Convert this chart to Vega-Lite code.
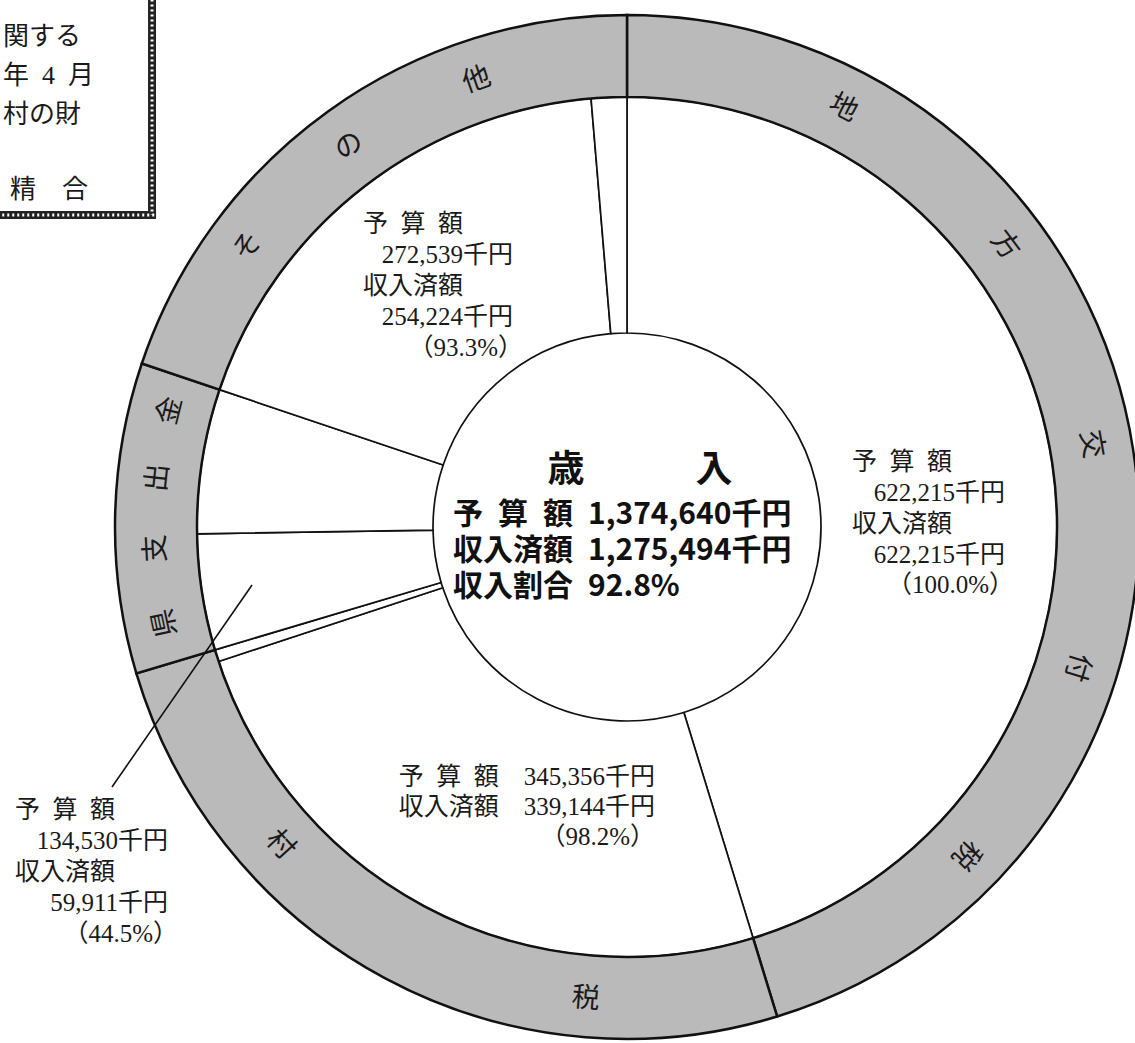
{
  "$schema": "https://vega.github.io/schema/vega-lite/v6.json",
  "width": 1016,
  "height": 1032,
  "autosize": {"type": "none"},
  "padding": {"left": 119, "top": 11, "right": 0, "bottom": 0},
  "background": "white",
  "config": {"view": {"stroke": null}},
  "datasets": {
    "ring": [
      {"cat": "地方交付税", "budget": 622215, "o": 1},
      {"cat": "村税", "budget": 345356, "o": 2},
      {"cat": "県支出金", "budget": 134530, "o": 3},
      {"cat": "その他", "budget": 272539, "o": 4}
    ],
    "segments": [
      {"cat": "地方交付税", "status": "収入済額", "amount": 622215, "o": 1},
      {"cat": "村税", "status": "収入済額", "amount": 339144, "o": 2},
      {"cat": "村税", "status": "未収入", "amount": 6212, "o": 3},
      {"cat": "県支出金", "status": "収入済額", "amount": 59911, "o": 4},
      {"cat": "県支出金", "status": "未収入", "amount": 74619, "o": 5},
      {"cat": "その他", "status": "収入済額", "amount": 254224, "o": 6},
      {"cat": "その他", "status": "未収入", "amount": 18315, "o": 7}
    ],
    "notes": [
      {"key": "heads", "text": "予\u2002算\u2002額\n収入済額"},
      {"key": "地方交付税-A", "text": "622,215千円\n622,215千円"},
      {"key": "地方交付税-P", "text": "（100.0%）"},
      {"key": "村税", "text": "予\u2002算\u2002額\u3000345,356千円\n収入済額\u3000339,144千円\n（98.2%）"},
      {"key": "県支出金-A", "text": "134,530千円\n59,911千円"},
      {"key": "県支出金-P", "text": "（44.5%）"},
      {"key": "その他-A", "text": "272,539千円\n254,224千円"},
      {"key": "その他-P", "text": "（93.3%）"},
      {"key": "title", "text": "歳\u3000\u3000\u3000入"},
      {"key": "total", "text": "予\u2002算\u2002額\u20021,374,640千円\n収入済額\u20021,275,494千円\n収入割合\u200292.8%"},
      {"key": "corner", "text": "関する\n年\u20024\u2002月\n村の財"},
      {"key": "corner2", "text": "精\u3000合"}
    ]
  },
  "layer": [
    {
      "data": {"name": "segments"},
      "mark": {"type": "arc", "radius": 430, "radius2": 194, "fill": "white", "stroke": "#111111", "strokeWidth": 1.7},
      "encoding": {
        "theta": {"field": "amount", "type": "quantitative", "stack": true, "scale": {"domain": [0, 1374640]}},
        "order": {"field": "o", "type": "quantitative"}
      }
    },
    {
      "data": {"name": "ring"},
      "mark": {"type": "arc", "radius": 512, "radius2": 430, "fill": "#bababa", "stroke": "#111111", "strokeWidth": 2.5},
      "encoding": {
        "theta": {"field": "budget", "type": "quantitative", "stack": true, "scale": {"domain": [0, 1374640]}},
        "order": {"field": "o", "type": "quantitative"}
      }
    },
    {"data": {"values": [{"ch": "地"}]}, "mark": {"type": "text", "radius": 471, "angle": 27, "fontSize": 28, "font": "Noto Sans CJK JP", "fill": "#1a1a1a", "align": "center", "baseline": "middle"}, "encoding": {"theta": {"datum": 104244, "type": "quantitative", "scale": {"domain": [0, 1374640]}}, "text": {"field": "ch", "type": "nominal"}}},
    {"data": {"values": [{"ch": "方"}]}, "mark": {"type": "text", "radius": 471, "angle": 53, "fontSize": 28, "font": "Noto Sans CJK JP", "fill": "#1a1a1a", "align": "center", "baseline": "middle"}, "encoding": {"theta": {"datum": 203523, "type": "quantitative", "scale": {"domain": [0, 1374640]}}, "text": {"field": "ch", "type": "nominal"}}},
    {"data": {"values": [{"ch": "交"}]}, "mark": {"type": "text", "radius": 471, "angle": 80, "fontSize": 28, "font": "Noto Sans CJK JP", "fill": "#1a1a1a", "align": "center", "baseline": "middle"}, "encoding": {"theta": {"datum": 305094, "type": "quantitative", "scale": {"domain": [0, 1374640]}}, "text": {"field": "ch", "type": "nominal"}}},
    {"data": {"values": [{"ch": "付"}]}, "mark": {"type": "text", "radius": 471, "angle": 107, "fontSize": 28, "font": "Noto Sans CJK JP", "fill": "#1a1a1a", "align": "center", "baseline": "middle"}, "encoding": {"theta": {"datum": 409719, "type": "quantitative", "scale": {"domain": [0, 1374640]}}, "text": {"field": "ch", "type": "nominal"}}},
    {"data": {"values": [{"ch": "税"}]}, "mark": {"type": "text", "radius": 471, "angle": 134, "fontSize": 28, "font": "Noto Sans CJK JP", "fill": "#1a1a1a", "align": "center", "baseline": "middle"}, "encoding": {"theta": {"datum": 511671, "type": "quantitative", "scale": {"domain": [0, 1374640]}}, "text": {"field": "ch", "type": "nominal"}}},
    {"data": {"values": [{"ch": "税"}]}, "mark": {"type": "text", "radius": 474, "angle": 5, "fontSize": 28, "font": "Noto Sans CJK JP", "fill": "#1a1a1a", "align": "center", "baseline": "middle"}, "encoding": {"theta": {"datum": 706412, "type": "quantitative", "scale": {"domain": [0, 1374640]}}, "text": {"field": "ch", "type": "nominal"}}},
    {"data": {"values": [{"ch": "村"}]}, "mark": {"type": "text", "radius": 471, "angle": 47.5, "fontSize": 28, "font": "Noto Sans CJK JP", "fill": "#1a1a1a", "align": "center", "baseline": "middle"}, "encoding": {"theta": {"datum": 868695, "type": "quantitative", "scale": {"domain": [0, 1374640]}}, "text": {"field": "ch", "type": "nominal"}}},
    {"data": {"values": [{"ch": "県"}]}, "mark": {"type": "text", "radius": 471, "angle": 258, "fontSize": 28, "font": "Noto Sans CJK JP", "fill": "#1a1a1a", "align": "center", "baseline": "middle"}, "encoding": {"theta": {"datum": 986304, "type": "quantitative", "scale": {"domain": [0, 1374640]}}, "text": {"field": "ch", "type": "nominal"}}},
    {"data": {"values": [{"ch": "支"}]}, "mark": {"type": "text", "radius": 471, "angle": 267, "fontSize": 28, "font": "Noto Sans CJK JP", "fill": "#1a1a1a", "align": "center", "baseline": "middle"}, "encoding": {"theta": {"datum": 1021052, "type": "quantitative", "scale": {"domain": [0, 1374640]}}, "text": {"field": "ch", "type": "nominal"}}},
    {"data": {"values": [{"ch": "出"}]}, "mark": {"type": "text", "radius": 471, "angle": 276, "fontSize": 28, "font": "Noto Sans CJK JP", "fill": "#1a1a1a", "align": "center", "baseline": "middle"}, "encoding": {"theta": {"datum": 1053889, "type": "quantitative", "scale": {"domain": [0, 1374640]}}, "text": {"field": "ch", "type": "nominal"}}},
    {"data": {"values": [{"ch": "金"}]}, "mark": {"type": "text", "radius": 471, "angle": 284, "fontSize": 28, "font": "Noto Sans CJK JP", "fill": "#1a1a1a", "align": "center", "baseline": "middle"}, "encoding": {"theta": {"datum": 1085582, "type": "quantitative", "scale": {"domain": [0, 1374640]}}, "text": {"field": "ch", "type": "nominal"}}},
    {"data": {"values": [{"ch": "そ"}]}, "mark": {"type": "text", "radius": 471, "angle": 306.5, "fontSize": 28, "font": "Noto Sans CJK JP", "fill": "#1a1a1a", "align": "center", "baseline": "middle"}, "encoding": {"theta": {"datum": 1170352, "type": "quantitative", "scale": {"domain": [0, 1374640]}}, "text": {"field": "ch", "type": "nominal"}}},
    {"data": {"values": [{"ch": "の"}]}, "mark": {"type": "text", "radius": 471, "angle": 324, "fontSize": 28, "font": "Noto Sans CJK JP", "fill": "#1a1a1a", "align": "center", "baseline": "middle"}, "encoding": {"theta": {"datum": 1236794, "type": "quantitative", "scale": {"domain": [0, 1374640]}}, "text": {"field": "ch", "type": "nominal"}}},
    {"data": {"values": [{"ch": "他"}]}, "mark": {"type": "text", "radius": 471, "angle": 341, "fontSize": 28, "font": "Noto Sans CJK JP", "fill": "#1a1a1a", "align": "center", "baseline": "middle"}, "encoding": {"theta": {"datum": 1303616, "type": "quantitative", "scale": {"domain": [0, 1374640]}}, "text": {"field": "ch", "type": "nominal"}}},

    {"data": {"name": "notes"}, "transform": [{"filter": "datum.key == 'heads'"}],
      "mark": {"type": "text", "align": "left", "baseline": "top", "lineBreak": "\n", "lineHeight": 62, "fontSize": 25, "font": "Liberation Serif, Noto Sans CJK JP", "fill": "#1a1a1a"},
      "encoding": {
        "x": {"datum": 0.4395, "type": "quantitative", "scale": {"domain": [-0.9922, 0.9922], "nice": false, "zero": false}, "axis": null},
        "y": {"datum": 0.1504, "type": "quantitative", "scale": {"domain": [-1.0078, 1.0078], "nice": false, "zero": false}, "axis": null},
        "text": {"field": "text", "type": "nominal"}}},
    {"data": {"name": "notes"}, "transform": [{"filter": "datum.key == '地方交付税-A'"}],
      "mark": {"type": "text", "align": "right", "baseline": "top", "lineBreak": "\n", "lineHeight": 62, "fontSize": 25, "font": "Liberation Serif, Noto Sans CJK JP", "fill": "#1a1a1a"},
      "encoding": {
        "x": {"datum": 0.7383, "type": "quantitative", "scale": {"domain": [-0.9922, 0.9922], "nice": false, "zero": false}, "axis": null},
        "y": {"datum": 0.0898, "type": "quantitative", "scale": {"domain": [-1.0078, 1.0078], "nice": false, "zero": false}, "axis": null},
        "text": {"field": "text", "type": "nominal"}}},
    {"data": {"name": "notes"}, "transform": [{"filter": "datum.key == '地方交付税-P'"}],
      "mark": {"type": "text", "align": "right", "baseline": "top", "fontSize": 25, "font": "Liberation Serif, Noto Sans CJK JP", "fill": "#1a1a1a"},
      "encoding": {
        "x": {"datum": 0.7559, "type": "quantitative", "scale": {"domain": [-0.9922, 0.9922], "nice": false, "zero": false}, "axis": null},
        "y": {"datum": -0.0898, "type": "quantitative", "scale": {"domain": [-1.0078, 1.0078], "nice": false, "zero": false}, "axis": null},
        "text": {"field": "text", "type": "nominal"}}},

    {"data": {"name": "notes"}, "transform": [{"filter": "datum.key == '村税'"}],
      "mark": {"type": "text", "align": "right", "baseline": "top", "lineBreak": "\n", "lineHeight": 30, "fontSize": 25, "font": "Liberation Serif, Noto Sans CJK JP", "fill": "#1a1a1a"},
      "encoding": {
        "x": {"datum": 0.0547, "type": "quantitative", "scale": {"domain": [-0.9922, 0.9922], "nice": false, "zero": false}, "axis": null},
        "y": {"datum": -0.4648, "type": "quantitative", "scale": {"domain": [-1.0078, 1.0078], "nice": false, "zero": false}, "axis": null},
        "text": {"field": "text", "type": "nominal"}}},

    {"data": {"name": "notes"}, "transform": [{"filter": "datum.key == 'heads'"}],
      "mark": {"type": "text", "align": "left", "baseline": "top", "lineBreak": "\n", "lineHeight": 62, "fontSize": 25, "font": "Liberation Serif, Noto Sans CJK JP", "fill": "#1a1a1a"},
      "encoding": {
        "x": {"datum": -1.1953, "type": "quantitative", "scale": {"domain": [-0.9922, 0.9922], "nice": false, "zero": false}, "axis": null},
        "y": {"datum": -0.5293, "type": "quantitative", "scale": {"domain": [-1.0078, 1.0078], "nice": false, "zero": false}, "axis": null},
        "text": {"field": "text", "type": "nominal"}}},
    {"data": {"name": "notes"}, "transform": [{"filter": "datum.key == '県支出金-A'"}],
      "mark": {"type": "text", "align": "right", "baseline": "top", "lineBreak": "\n", "lineHeight": 62, "fontSize": 25, "font": "Liberation Serif, Noto Sans CJK JP", "fill": "#1a1a1a"},
      "encoding": {
        "x": {"datum": -0.8965, "type": "quantitative", "scale": {"domain": [-0.9922, 0.9922], "nice": false, "zero": false}, "axis": null},
        "y": {"datum": -0.5898, "type": "quantitative", "scale": {"domain": [-1.0078, 1.0078], "nice": false, "zero": false}, "axis": null},
        "text": {"field": "text", "type": "nominal"}}},
    {"data": {"name": "notes"}, "transform": [{"filter": "datum.key == '県支出金-P'"}],
      "mark": {"type": "text", "align": "right", "baseline": "top", "fontSize": 25, "font": "Liberation Serif, Noto Sans CJK JP", "fill": "#1a1a1a"},
      "encoding": {
        "x": {"datum": -0.8770, "type": "quantitative", "scale": {"domain": [-0.9922, 0.9922], "nice": false, "zero": false}, "axis": null},
        "y": {"datum": -0.7715, "type": "quantitative", "scale": {"domain": [-1.0078, 1.0078], "nice": false, "zero": false}, "axis": null},
        "text": {"field": "text", "type": "nominal"}}},

    {"data": {"name": "notes"}, "transform": [{"filter": "datum.key == 'heads'"}],
      "mark": {"type": "text", "align": "left", "baseline": "top", "lineBreak": "\n", "lineHeight": 62, "fontSize": 25, "font": "Liberation Serif, Noto Sans CJK JP", "fill": "#1a1a1a"},
      "encoding": {
        "x": {"datum": -0.5156, "type": "quantitative", "scale": {"domain": [-0.9922, 0.9922], "nice": false, "zero": false}, "axis": null},
        "y": {"datum": 0.6152, "type": "quantitative", "scale": {"domain": [-1.0078, 1.0078], "nice": false, "zero": false}, "axis": null},
        "text": {"field": "text", "type": "nominal"}}},
    {"data": {"name": "notes"}, "transform": [{"filter": "datum.key == 'その他-A'"}],
      "mark": {"type": "text", "align": "right", "baseline": "top", "lineBreak": "\n", "lineHeight": 62, "fontSize": 25, "font": "Liberation Serif, Noto Sans CJK JP", "fill": "#1a1a1a"},
      "encoding": {
        "x": {"datum": -0.2227, "type": "quantitative", "scale": {"domain": [-0.9922, 0.9922], "nice": false, "zero": false}, "axis": null},
        "y": {"datum": 0.5547, "type": "quantitative", "scale": {"domain": [-1.0078, 1.0078], "nice": false, "zero": false}, "axis": null},
        "text": {"field": "text", "type": "nominal"}}},
    {"data": {"name": "notes"}, "transform": [{"filter": "datum.key == 'その他-P'"}],
      "mark": {"type": "text", "align": "right", "baseline": "top", "fontSize": 25, "font": "Liberation Serif, Noto Sans CJK JP", "fill": "#1a1a1a"},
      "encoding": {
        "x": {"datum": -0.2031, "type": "quantitative", "scale": {"domain": [-0.9922, 0.9922], "nice": false, "zero": false}, "axis": null},
        "y": {"datum": 0.3730, "type": "quantitative", "scale": {"domain": [-1.0078, 1.0078], "nice": false, "zero": false}, "axis": null},
        "text": {"field": "text", "type": "nominal"}}},

    {"data": {"name": "notes"}, "transform": [{"filter": "datum.key == 'title'"}],
      "mark": {"type": "text", "align": "center", "baseline": "middle", "fontSize": 37, "fontWeight": "bold", "font": "Noto Sans CJK JP", "fill": "#111111"},
      "encoding": {
        "x": {"datum": 0.0254, "type": "quantitative", "scale": {"domain": [-0.9922, 0.9922], "nice": false, "zero": false}, "axis": null},
        "y": {"datum": 0.1094, "type": "quantitative", "scale": {"domain": [-1.0078, 1.0078], "nice": false, "zero": false}, "axis": null},
        "text": {"field": "text", "type": "nominal"}}},
    {"data": {"name": "notes"}, "transform": [{"filter": "datum.key == 'total'"}],
      "mark": {"type": "text", "align": "left", "baseline": "top", "lineBreak": "\n", "lineHeight": 36, "fontSize": 30, "fontWeight": "bold", "font": "Noto Sans CJK JP", "fill": "#111111"},
      "encoding": {
        "x": {"datum": -0.3398, "type": "quantitative", "scale": {"domain": [-0.9922, 0.9922], "nice": false, "zero": false}, "axis": null},
        "y": {"datum": 0.0527, "type": "quantitative", "scale": {"domain": [-1.0078, 1.0078], "nice": false, "zero": false}, "axis": null},
        "text": {"field": "text", "type": "nominal"}}},

    {"data": {"name": "notes"}, "transform": [{"filter": "datum.key == 'corner'"}],
      "mark": {"type": "text", "align": "left", "baseline": "top", "lineBreak": "\n", "lineHeight": 39, "fontSize": 26, "font": "Liberation Serif, Noto Sans CJK JP", "fill": "#1a1a1a"},
      "encoding": {
        "x": {"datum": -1.2188, "type": "quantitative", "scale": {"domain": [-0.9922, 0.9922], "nice": false, "zero": false}, "axis": null},
        "y": {"datum": 0.9824, "type": "quantitative", "scale": {"domain": [-1.0078, 1.0078], "nice": false, "zero": false}, "axis": null},
        "text": {"field": "text", "type": "nominal"}}},
    {"data": {"name": "notes"}, "transform": [{"filter": "datum.key == 'corner2'"}],
      "mark": {"type": "text", "align": "left", "baseline": "top", "fontSize": 26, "font": "Liberation Serif, Noto Sans CJK JP", "fill": "#1a1a1a"},
      "encoding": {
        "x": {"datum": -1.2051, "type": "quantitative", "scale": {"domain": [-0.9922, 0.9922], "nice": false, "zero": false}, "axis": null},
        "y": {"datum": 0.6836, "type": "quantitative", "scale": {"domain": [-1.0078, 1.0078], "nice": false, "zero": false}, "axis": null},
        "text": {"field": "text", "type": "nominal"}}},

    {
      "data": {"values": [{"part": "leader"}]},
      "mark": {"type": "rule", "stroke": "#111111", "strokeWidth": 1.6},
      "encoding": {
        "x": {"datum": -1.0059, "type": "quantitative", "scale": {"domain": [-0.9922, 0.9922], "nice": false, "zero": false}, "axis": null},
        "y": {"datum": -0.5078, "type": "quantitative", "scale": {"domain": [-1.0078, 1.0078], "nice": false, "zero": false}, "axis": null},
        "x2": {"datum": -0.7324},
        "y2": {"datum": -0.1133}
      }
    },
    {
      "data": {"values": [{"part": "border-v"}]},
      "mark": {"type": "rule", "stroke": "#222222", "strokeWidth": 8},
      "encoding": {
        "x": {"datum": -0.9277, "type": "quantitative", "scale": {"domain": [-0.9922, 0.9922], "nice": false, "zero": false}, "axis": null},
        "y": {"datum": 1.04, "type": "quantitative", "scale": {"domain": [-1.0078, 1.0078], "nice": false, "zero": false}, "axis": null},
        "x2": {"datum": -0.9277},
        "y2": {"datum": 0.6094}
      }
    },
    {
      "data": {"values": [{"part": "border-h"}]},
      "mark": {"type": "rule", "stroke": "#222222", "strokeWidth": 8},
      "encoding": {
        "x": {"datum": -1.23, "type": "quantitative", "scale": {"domain": [-0.9922, 0.9922], "nice": false, "zero": false}, "axis": null},
        "y": {"datum": 0.6094, "type": "quantitative", "scale": {"domain": [-1.0078, 1.0078], "nice": false, "zero": false}, "axis": null},
        "x2": {"datum": -0.9199},
        "y2": {"datum": 0.6094}
      }
    },
    {
      "data": {"values": [{"part": "border-v-notch"}]},
      "mark": {"type": "rule", "stroke": "white", "strokeWidth": 3, "strokeDash": [2, 3]},
      "encoding": {
        "x": {"datum": -0.9277, "type": "quantitative", "scale": {"domain": [-0.9922, 0.9922], "nice": false, "zero": false}, "axis": null},
        "y": {"datum": 1.04, "type": "quantitative", "scale": {"domain": [-1.0078, 1.0078], "nice": false, "zero": false}, "axis": null},
        "x2": {"datum": -0.9277},
        "y2": {"datum": 0.6094}
      }
    },
    {
      "data": {"values": [{"part": "border-h-notch"}]},
      "mark": {"type": "rule", "stroke": "white", "strokeWidth": 3, "strokeDash": [2, 3]},
      "encoding": {
        "x": {"datum": -1.23, "type": "quantitative", "scale": {"domain": [-0.9922, 0.9922], "nice": false, "zero": false}, "axis": null},
        "y": {"datum": 0.6094, "type": "quantitative", "scale": {"domain": [-1.0078, 1.0078], "nice": false, "zero": false}, "axis": null},
        "x2": {"datum": -0.9199},
        "y2": {"datum": 0.6094}
      }
    }
  ]
}
